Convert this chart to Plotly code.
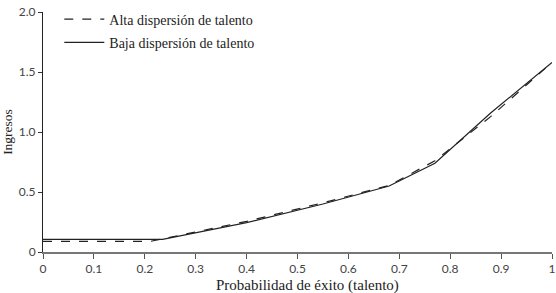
import plotly.graph_objects as go

# Data
x_baja = [0, 0.235, 0.40, 0.55, 0.68, 0.77, 0.88, 1.0]
y_baja = [0.105, 0.105, 0.245, 0.40, 0.55, 0.74, 1.16, 1.58]

x_alta = [0, 0.21, 0.235, 0.40, 0.55, 0.68, 0.77, 0.88, 1.0]
y_alta = [0.088, 0.088, 0.11, 0.255, 0.41, 0.555, 0.76, 1.13, 1.58]

x_ticks = [0, 0.1, 0.2, 0.3, 0.4, 0.5, 0.6, 0.7, 0.8, 0.9, 1.0]
x_ticktext = ["0", "0.1", "0.2", "0.3", "0.4", "0.5", "0.6", "0.7", "0.8", "0.9", "1"]
y_ticks = [0, 0.5, 1.0, 1.5, 2.0]
y_ticktext = ["0", "0.5", "1.0", "1.5", "2.0"]

serif = "Liberation Serif"
sans = "Lato"

fig = go.Figure()
fig.add_trace(go.Scatter(x=x_alta, y=y_alta, mode="lines", legendgroup="a",
                         name="Alta dispersión de talento",
                         line=dict(color="#222", width=1.2, dash="dash")))
fig.add_trace(go.Scatter(x=x_baja, y=y_baja, mode="lines", legendgroup="b",
                         name="Baja dispersión de talento",
                         line=dict(color="#222", width=1.2)))

fig.update_layout(
    width=556, height=293,
    margin=dict(l=43, r=4, t=12, b=41),
    paper_bgcolor="white", plot_bgcolor="white",
    showlegend=True,
    legend=dict(x=0.032, y=1.035, xanchor="left", yanchor="top",
                font=dict(family=serif, size=14, color="#222"),
                bgcolor="rgba(0,0,0,0)", tracegroupgap=2, itemwidth=40),
    xaxis=dict(range=[0, 1.0], tickvals=x_ticks, ticktext=x_ticktext,
               showgrid=False, zeroline=False, showline=True, automargin=False,
               linecolor="#777", linewidth=2, ticks="outside", ticklen=5,
               tickcolor="#555", tickfont=dict(family=sans, size=12, color="#444")),
    yaxis=dict(range=[0, 2.0], tickvals=y_ticks, ticktext=y_ticktext,
               showgrid=False, zeroline=False, showline=True, automargin=False,
               linecolor="#222", linewidth=1, ticks="outside", ticklen=4,
               tickcolor="#333", tickfont=dict(family=sans, size=12, color="#444"),
               title=dict(text="Ingresos",
                          font=dict(family=serif, size=13.5, color="#222"), standoff=4)),
    annotations=[dict(text="Probabilidad de éxito (talento)", xref="paper", yref="paper",
                      x=0.52, y=0, yshift=-33, xanchor="center", yanchor="middle",
                      showarrow=False, font=dict(family=serif, size=15, color="#222"))],
)

fig.write_html("out.html", config={"displayModeBar": False},
               post_script="document.body.style.margin='0';document.body.style.overflow='hidden';")
